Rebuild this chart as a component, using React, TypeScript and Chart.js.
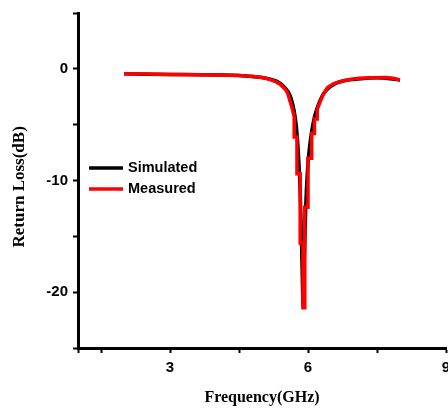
import React, { useEffect, useRef } from "react";
import { Chart, registerables } from "chart.js";

Chart.register(...registerables);

const simFreq = [2.0, 3.0, 4.0, 4.5, 5.0, 5.2, 5.4, 5.5, 5.6, 5.65, 5.7, 5.75, 5.79, 5.83, 5.85, 5.87, 5.895, 5.92, 5.95, 5.99, 6.04, 6.08, 6.13, 6.2, 6.3, 6.4, 6.6, 6.8, 7.0, 7.5, 8.0];
const simDb = [-0.45, -0.5, -0.55, -0.6, -0.78, -0.95, -1.3, -1.7, -2.3, -2.9, -3.8, -5.3, -7.5, -11, -14, -17.5, -21.3, -17, -12.5, -9.0, -6.8, -5.6, -4.5, -3.5, -2.5, -1.9, -1.3, -1.05, -0.95, -0.8, -1.0];

const measFreq = [2.0, 2.5, 3.0, 3.5, 4.0, 4.5, 4.8, 5.0, 5.15, 5.3, 5.4, 5.5, 5.56, 5.61, 5.66, 5.7, 5.7, 5.76, 5.76, 5.83, 5.83, 5.89, 5.89, 5.93, 5.93, 6.0, 6.0, 6.08, 6.08, 6.14, 6.14, 6.2, 6.2, 6.26, 6.33, 6.42, 6.55, 6.7, 6.9, 7.1, 7.4, 7.7, 7.85, 8.0];
const measDb = [-0.45, -0.47, -0.5, -0.52, -0.55, -0.6, -0.68, -0.78, -0.92, -1.15, -1.4, -1.8, -2.2, -2.9, -3.6, -4.3, -6.1, -6.1, -9.4, -9.4, -15.6, -15.6, -21.4, -21.4, -12.4, -12.4, -8.0, -8.0, -5.8, -5.8, -4.5, -4.5, -3.6, -3.0, -2.3, -1.7, -1.35, -1.15, -0.95, -0.85, -0.8, -0.78, -0.85, -1.0];

const seriesNames = ["Simulated", "Measured"];
const seriesColors = ["#000000", "#ff0000"];
const xTickLabels = [3, 6, 9];
const yTickLabels = [0, -10, -20];

const legendPlugin = {
  id: "insideLegend",
  afterDraw(chart: any) {
    const { ctx, chartArea } = chart;
    ctx.save();
    ctx.font = "bold 14.5px 'Liberation Sans', Arial, sans-serif";
    ctx.textBaseline = "middle";
    seriesNames.forEach((name, i) => {
      const y = chartArea.top + 155 + i * 21;
      const x0 = chartArea.left + 11;
      ctx.strokeStyle = seriesColors[i];
      ctx.lineWidth = 3.5;
      ctx.beginPath();
      ctx.moveTo(x0, y);
      ctx.lineTo(x0 + 34, y);
      ctx.stroke();
      ctx.fillStyle = "#000";
      ctx.fillText(name, x0 + 39, y);
    });
    ctx.restore();
  },
};

export default function App() {
  const ref = useRef<HTMLCanvasElement>(null);
  useEffect(() => {
    document.body.style.margin = "0";
    const canvas = ref.current!;
    const tickFont = { family: "'Liberation Sans', Arial, sans-serif", size: 15, weight: "bold" as const };
    const chart = new Chart(canvas, {
      type: "line",
      data: {
        datasets: [
          {
            label: seriesNames[0],
            data: simFreq.map((x, i) => ({ x, y: simDb[i] })),
            borderColor: seriesColors[0],
            borderWidth: 3.5,
            pointRadius: 0,
            cubicInterpolationMode: "monotone",
            order: 2,
          },
          {
            label: seriesNames[1],
            data: measFreq.map((x, i) => ({ x, y: measDb[i] })),
            borderColor: seriesColors[1],
            borderWidth: 3.5,
            pointRadius: 0,
            tension: 0,
            order: 1,
          },
        ],
      },
      options: {
        responsive: false,
        animation: false,
        devicePixelRatio: 1,
        layout: { padding: { top: 13, right: 2, bottom: 0, left: 0 } },
        plugins: { legend: { display: false }, tooltip: { enabled: false } },
        scales: {
          x: {
            type: "linear",
            min: 1,
            max: 9,
            border: { display: true, color: "#000", width: 3 },
            grid: { drawOnChartArea: false, drawTicks: true, tickLength: 5, tickWidth: 2, tickColor: "#000" },
            ticks: {
              stepSize: 1.5,
              autoSkip: false,
              maxRotation: 0,
              padding: 6,
              color: "#000",
              font: tickFont,
              callback: (v: any) => (xTickLabels.includes(Number(v)) ? String(v) : ""),
            },
            title: {
              display: true,
              text: "Frequency(GHz)",
              color: "#000",
              font: { family: "'Liberation Serif', 'Times New Roman', serif", size: 16, weight: "bold" },
              padding: { top: 0, bottom: 3 },
            },
            afterFit: (s: any) => {
              s.height = 62;
              s.paddingLeft = 0;
              s.paddingRight = 0;
            },
          },
          y: {
            type: "linear",
            min: -25,
            max: 5,
            border: { display: true, color: "#000", width: 3 },
            grid: { drawOnChartArea: false, drawTicks: true, tickLength: 5, tickWidth: 2, tickColor: "#000" },
            ticks: {
              stepSize: 5,
              autoSkip: false,
              padding: 5,
              color: "#000",
              font: tickFont,
              callback: (v: any) => (yTickLabels.includes(Number(v)) ? String(v) : ""),
            },
            title: {
              display: true,
              text: "Return Loss(dB)   ",
              color: "#000",
              font: { family: "'Liberation Serif', 'Times New Roman', serif", size: 17, weight: "bold" },
              padding: { top: 9, bottom: 0 },
            },
            afterFit: (s: any) => {
              s.width = 78;
              s.paddingTop = 0;
              s.paddingBottom = 0;
            },
          },
        },
      },
      plugins: [legendPlugin],
    });
    return () => chart.destroy();
  }, []);
  return (
    <div style={{ width: 448, height: 410 }}>
      <canvas ref={ref} width={448} height={410} style={{ display: "block" }} />
    </div>
  );
}
